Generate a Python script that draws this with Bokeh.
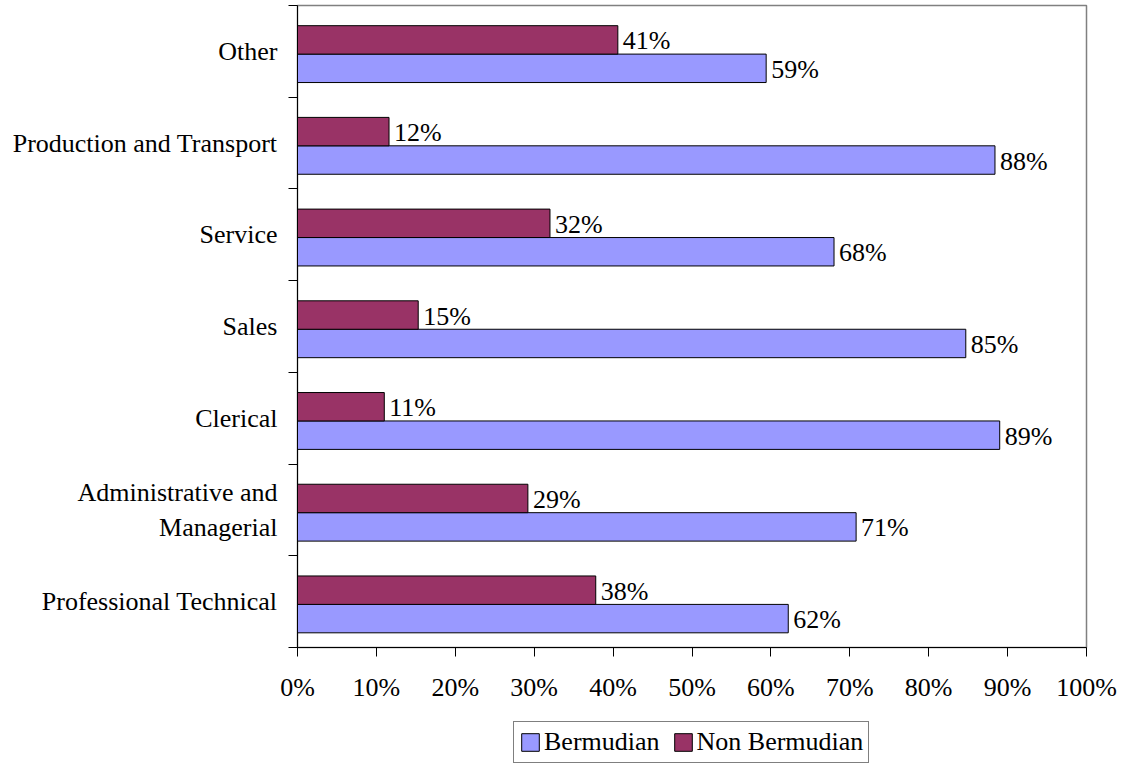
from bokeh.plotting import figure
from bokeh.layouts import column
from bokeh.models import (ColumnDataSource, FixedTicker, PrintfTickFormatter,
                          Legend, LegendItem, Range1d)
from bokeh.core.properties import value
from bokeh.embed import file_html
from bokeh.resources import INLINE

# ---- data (bottom to top) ----
categories = ["Professional Technical", "Administrative and\nManagerial", "Clerical",
              "Sales", "Service", "Production and Transport", "Other"]
bermudian = [62.2, 70.8, 89.0, 84.7, 68.0, 88.4, 59.4]
non_bermudian = [37.8, 29.2, 11.0, 15.3, 32.0, 11.6, 40.6]
x_ticks = [0, 10, 20, 30, 40, 50, 60, 70, 80, 90, 100]
series_names = ["Bermudian", "Non Bermudian"]

FONT = "Liberation Serif"
FS = "26px"
C_BERM = "#9999FF"
C_NON = "#993366"
BAR_H = 0.31

n = len(categories)
centers = [i + 0.5 for i in range(n)]

src_b = ColumnDataSource(dict(
    y=[c - BAR_H / 2 - 0.03 for c in centers], v=bermudian,
    lab=[f"{int(round(v + 1e-9))}%" for v in bermudian]))
src_n = ColumnDataSource(dict(
    y=[c + BAR_H / 2 - 0.03 for c in centers], v=non_bermudian,
    lab=[f"{int(round(v + 1e-9))}%" for v in non_bermudian]))

MAIN_H = 707
p = figure(width=1122, height=MAIN_H, output_backend="svg", toolbar_location=None,
           x_range=Range1d(0, 100), y_range=Range1d(0, n),
           min_border_left=297, min_border_right=36, min_border_top=5,
           min_border_bottom=60)

p.background_fill_color = "white"
p.border_fill_color = "white"
p.outline_line_color = "#808080"
p.outline_line_width = 1.5
p.xgrid.visible = False
p.ygrid.visible = False

p.hbar(y="y", right="v", left=0, height=BAR_H, source=src_b,
       fill_color=C_BERM, line_color="black", line_width=1)
p.hbar(y="y", right="v", left=0, height=BAR_H, source=src_n,
       fill_color=C_NON, line_color="black", line_width=1)

for src in (src_b, src_n):
    p.text(x="v", y="y", text="lab", source=src, x_offset=5, y_offset=1,
           text_font=value(FONT), text_font_size=FS, text_color="black",
           text_baseline="middle", text_align="left")

# x axis
xa = p.xaxis[0]
xa.ticker = FixedTicker(ticks=x_ticks, minor_ticks=[])
xa.formatter = PrintfTickFormatter(format="%d%%")
xa.axis_line_color = "black"
xa.major_tick_line_color = "black"
xa.major_tick_out = 9
xa.major_tick_in = 0
xa.minor_tick_line_color = None
xa.major_label_standoff = 16
xa.major_label_text_font = FONT
xa.major_label_text_font_size = FS
xa.major_label_text_color = "black"

# y axis
ya = p.yaxis[0]
ya.ticker = FixedTicker(ticks=centers, minor_ticks=list(range(n + 1)))
ya.major_label_overrides = {c: lab for c, lab in zip(centers, categories)}
ya.axis_line_color = "black"
ya.major_tick_line_color = None
ya.major_tick_out = 0
ya.major_tick_in = 0
ya.minor_tick_line_color = "black"
ya.minor_tick_out = 9
ya.minor_tick_in = 0
ya.major_label_standoff = 11
ya.major_label_text_font = FONT
ya.major_label_text_font_size = FS
ya.major_label_text_color = "black"

# ---- legend strip below the chart (frame aligned with the chart's frame) ----
LEG_H = 763 - MAIN_H
pl = figure(width=1122, height=LEG_H, output_backend="svg", toolbar_location=None,
            x_range=Range1d(0, 100), y_range=Range1d(0, n),
            min_border_left=297, min_border_right=36, min_border_top=0,
            min_border_bottom=0)
pl.axis.visible = False
pl.xgrid.visible = False
pl.ygrid.visible = False
pl.outline_line_color = None
pl.background_fill_color = "white"
pl.border_fill_color = "white"

lb = pl.hbar(y="y", right="v", left=0, height=BAR_H, source=src_b,
             fill_color=C_BERM, line_color="black", line_width=1, visible=False)
ln = pl.hbar(y="y", right="v", left=0, height=BAR_H, source=src_n,
             fill_color=C_NON, line_color="black", line_width=1, visible=False)

legend = Legend(items=[LegendItem(label=series_names[0], renderers=[lb]),
                       LegendItem(label=series_names[1], renderers=[ln])],
                orientation="horizontal", location=(216, 0))
legend.label_text_font = FONT
legend.label_text_font_size = FS
legend.label_text_color = "black"
legend.label_height = 26
legend.glyph_width = 22
legend.glyph_height = 22
legend.label_standoff = 3
legend.spacing = 12
legend.padding = 5
legend.margin = 0
legend.border_line_color = "black"
legend.border_line_width = 1
legend.background_fill_color = "white"
legend.background_fill_alpha = 1
legend.inactive_fill_alpha = 0
legend.click_policy = "none"
pl.add_layout(legend, "center")

layout = column(p, pl, spacing=0)
open("out.html", "w").write(file_html(layout, INLINE))
